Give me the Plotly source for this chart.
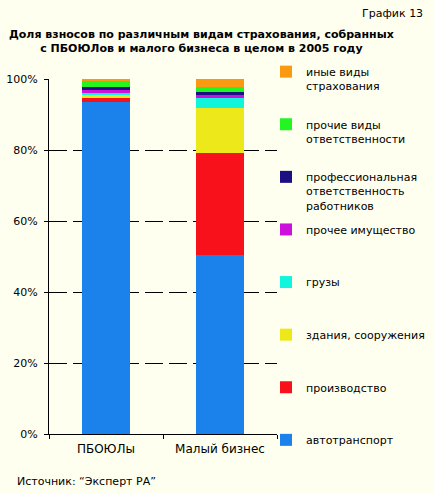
import plotly.graph_objects as go

categories = ["ПБОЮЛы", "Малый бизнес"]
series_names = [
    "автотранспорт",
    "производство",
    "здания, сооружения",
    "грузы",
    "прочее имущество",
    "профессиональная<br>ответственность<br>работников",
    "прочие виды<br>ответственности",
    "иные виды<br>страхования",
]
series_colors = ["#1A82EA", "#F8101A", "#EDE81A", "#11F5DD", "#CC11DD", "#1C0F82", "#22F522", "#F99A10"]
values_pboyul = [93.6, 1.1, 0.85, 0.55, 0.85, 0.75, 1.6, 0.6]
values_small = [50.3, 28.9, 12.7, 2.8, 0.85, 0.85, 1.3, 2.2]
y_ticks = [0, 20, 40, 60, 80, 100]
y_tick_labels = ["0%", "20%", "40%", "60%", "80%", "100%"]

BG = "#FFFFEF"
FONT = "DejaVu Sans"

def pad3(name):
    n = name.count("<br>") + 1
    return name + "<br>\u00a0" * (3 - n)

fig = go.Figure()
for i, name in enumerate(series_names):
    fig.add_trace(go.Bar(
        x=categories,
        y=[values_pboyul[i], values_small[i]],
        name=pad3(name),
        legendgroup="g%d" % i,
        legendrank=len(series_names) - i,
        marker=dict(color=series_colors[i], line=dict(width=0)),
    ))

W, H = 434, 493
ML, MR, MT, MB = 49, 157, 79, 59
fig.update_layout(
    width=W, height=H,
    barmode="stack",
    bargap=0.58,
    paper_bgcolor=BG, plot_bgcolor=BG,
    margin=dict(l=ML, r=MR, t=MT, b=MB, autoexpand=False),
    font=dict(family=FONT, size=11, color="#000000"),
    legend=dict(
        traceorder="grouped",
        tracegroupgap=6.7,
        valign="top",
        xref="container", yref="container",
        x=266 / W, y=1 - 58 / H,
        xanchor="left", yanchor="top",
        maxheight=480,
        bgcolor="rgba(0,0,0,0)",
        font=dict(family=FONT, size=11, color="#000000"),
    ),
    xaxis=dict(
        showline=True, linecolor="#000000", linewidth=1,
        ticks="outside", ticklen=4, tickcolor="#000000",
        tickson="boundaries",
        tickangle=0,
        tickfont=dict(family=FONT, size=12),
        ticklabelstandoff=4,
        showgrid=False,
    ),
    yaxis=dict(
        range=[0, 100],
        tickvals=y_ticks, ticktext=y_tick_labels,
        showline=True, linecolor="#000000", linewidth=1,
        ticks="outside", ticklen=4, tickcolor="#000000",
        showgrid=True, gridcolor="#000000", gridwidth=1, griddash="18px,6px",
        zeroline=False,
        tickfont=dict(family=FONT, size=11),
        ticklabelstandoff=4,
    ),
)

plot_w = W - ML - MR
plot_h = H - MT - MB
def px_to_paper_x(px):
    return (px - ML) / plot_w
def px_to_paper_y(py):
    return (H - MB - py) / plot_h

fig.add_annotation(text="График 13", xref="paper", yref="paper",
                   x=px_to_paper_x(425), y=px_to_paper_y(13),
                   xanchor="right", yanchor="middle", showarrow=False,
                   font=dict(family=FONT, size=11))
fig.add_annotation(text="<b>Доля взносов по различным видам страхования, собранных<br>с ПБОЮЛов и малого бизнеса в целом в 2005 году</b>",
                   xref="paper", yref="paper",
                   x=px_to_paper_x(201), y=px_to_paper_y(42),
                   xanchor="center", yanchor="middle", align="center", showarrow=False,
                   font=dict(family=FONT, size=11))
fig.add_annotation(text="Источник: \u201cЭксперт РА\u201d", xref="paper", yref="paper",
                   x=px_to_paper_x(15), y=px_to_paper_y(481),
                   xanchor="left", yanchor="middle", showarrow=False,
                   font=dict(family=FONT, size=11))

fig.write_html("out.html")
